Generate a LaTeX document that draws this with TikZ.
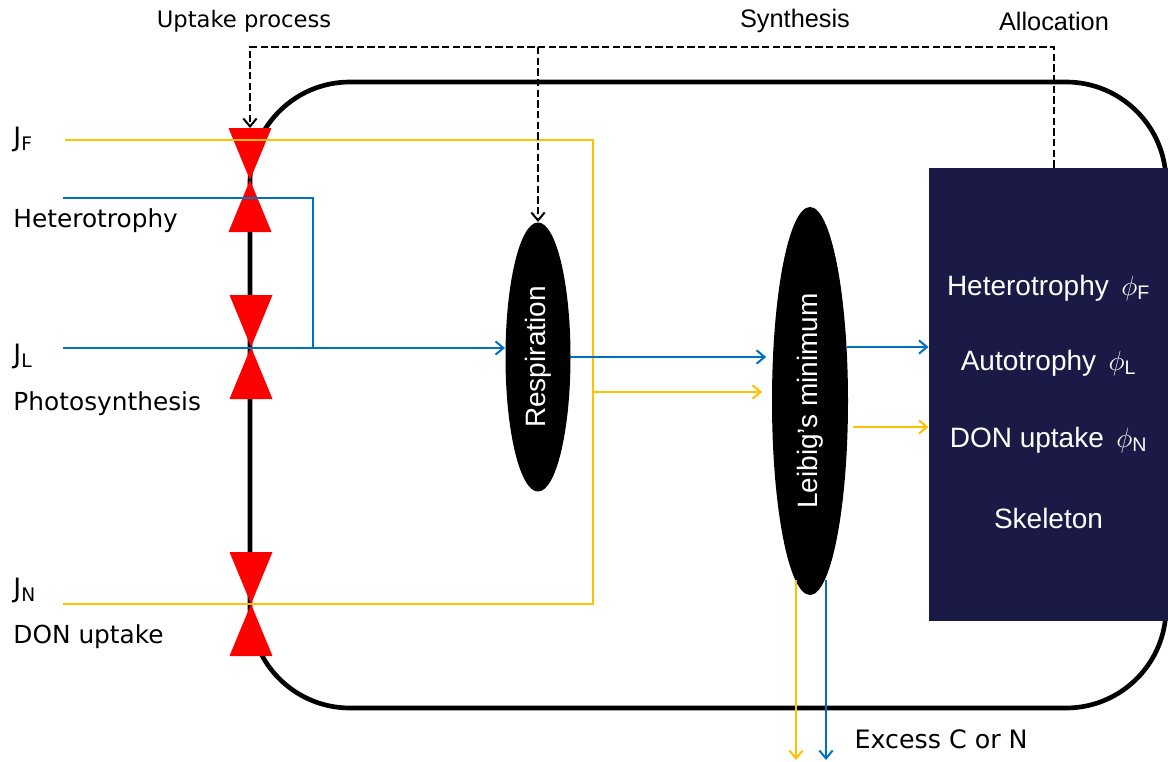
\documentclass[tikz,border=0pt]{standalone}
\usepackage{fontspec}
\setmainfont{DejaVu Sans}
\newfontfamily\arialfont{Liberation Sans}
\usetikzlibrary{arrows.meta,shapes.geometric}

\definecolor{cflux}{RGB}{0,112,192}
\definecolor{nflux}{RGB}{255,192,0}
\definecolor{valvered}{RGB}{255,0,0}
\definecolor{poolnavy}{RGB}{27,26,71}

\tikzset{every picture/.style={line width=0.75pt}}

\begin{document}
\begin{tikzpicture}[x=0.75pt,y=0.75pt,yscale=-1,xscale=1,
    wall/.style={line width=3.5pt, rounded corners=75pt},
    bflux/.style={draw=cflux, line width=2pt},
    yflux/.style={draw=nflux, line width=2pt},
    flowtip/.style={-{Straight Barb[length=6pt,width=10pt,line width=1.5pt]}},
    ctrl/.style={dash pattern=on 5.5pt off 2.5pt, line width=1.5pt},
    lbl/.style={font=\fontsize{18.6}{21}\selectfont, inner sep=0pt, anchor=base west},
    jlbl/.style={font=\fontsize{20}{22}\selectfont, inner sep=0pt, anchor=base west},
    toplbl/.style={font=\arialfont\fontsize{19}{22}\selectfont, inner sep=0pt},
    poollbl/.style={font=\arialfont\fontsize{21}{24}\selectfont, text=white, inner sep=0pt},
    blob/.style={ellipse, fill=black, text=white, inner sep=0pt, font=\arialfont\fontsize{21}{24}\selectfont},
    valve/.pic={\fill[valvered] (-21.5,-52) -- (21.5,-52) -- (0,0) -- cycle (-21.5,52) -- (21.5,52) -- (0,0) -- cycle;}
  ]
  \useasboundingbox (0,0) rectangle (1168,761);

  %Shape: Cell wall
  \draw[wall] (250,82) rectangle (1166,708);

  %Shape: Valves
  \pic at (250,180) {valve};
  \pic at (251,347) {valve};
  \pic at (251,604) {valve};

  %Shape: Ellipses and pool
  \node[blob, minimum width=48.75pt, minimum height=201.75pt] (resp) at (538,357) {\rotatebox{90}{Respiration}};
  \node[blob, minimum width=57pt, minimum height=291pt] (leibig) at (810,401) {\rotatebox{90}{Leibig’s minimum}};
  \node[fill=poolnavy, inner sep=0pt, minimum width=179.25pt, minimum height=339.75pt] (pool) at (1048.5,394.5) {};

  % Text Node
  \node[poollbl] (phiF) at (1048.5,288) {Heterotrophy~\,$\phi$\textsubscript{F}};
  \node[poollbl] (phiL) at (1048.5,363) {Autotrophy~\,$\phi$\textsubscript{L}};
  \node[poollbl] (phiN) at (1048.5,440) {DON uptake~\,$\phi$\textsubscript{N}};
  \node[poollbl] (skel) at (1048.5,518) {Skeleton};

  % Text Node
  \node[jlbl] (lblJF) at (13,146) {J\textsubscript{F}};
  \node[lbl] (lblhet) at (13,227) {Heterotrophy};
  \node[jlbl] (lblJL) at (13,363) {J\textsubscript{L}};
  \node[lbl] (lblpho) at (13,410) {Photosynthesis};
  \node[jlbl] (lblJN) at (13,597) {J\textsubscript{N}};
  \node[lbl] (lbldon) at (13,643) {DON uptake};
  \node[lbl, font=\fontsize{19}{21}\selectfont] (excess) at (854,748) {Excess C or N};
  \node[lbl, anchor=center, font=\fontsize{17}{20}\selectfont] (uptake) at (244,21) {Uptake process};
  \node[toplbl] (synth) at (795,21) {Synthesis};
  \node[toplbl] (alloc) at (1054,21) {Allocation};

  %Coordinates
  \coordinate (jF) at (65,140);
  \coordinate (jH) at (63,198);
  \coordinate (jL) at (63,348);
  \coordinate (jN) at (63,604);
  \coordinate (hjoin) at (313,348);
  \coordinate (ysplit) at (593,392);
  \coordinate (cout) at (847,347);
  \coordinate (nout) at (853,427);
  \coordinate (xsN) at (796,580);
  \coordinate (xsC) at (826,580);
  \coordinate (xsend) at (810,760);
  \coordinate (vFtop) at (250,128);
  \coordinate (sgate) at (538,47);

  %Straight Lines
  \draw[yflux] (jF) -| (ysplit) |- (jN);
  \draw[yflux, flowtip, shorten >=7pt] (ysplit) -- (ysplit -| leibig.west);
  \draw[bflux] (jH) -| (hjoin);
  \draw[bflux, flowtip] (jL) -- (jL -| resp.west);
  \draw[bflux, flowtip, shorten >=4pt] (resp.east) -- (resp.east -| leibig.west);
  \draw[bflux, flowtip] (cout) -- (cout -| pool.west);
  \draw[yflux, flowtip] (nout) -- (nout -| pool.west);
  \draw[yflux, flowtip] (xsN) -- (xsN |- xsend);
  \draw[bflux, flowtip] (xsC) -- (xsC |- xsend);

  %Dashed Lines
  \draw[ctrl, flowtip] (pool.north -| alloc) |- (sgate) -| (vFtop);
  \draw[ctrl, flowtip] (sgate) -- (resp.north);
\end{tikzpicture}
\end{document}
